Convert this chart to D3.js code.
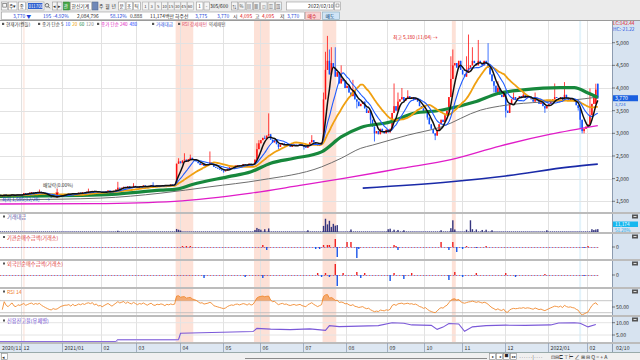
<!DOCTYPE html>
<html><head><meta charset="utf-8">
<script src="https://cdn.jsdelivr.net/npm/d3@7"></script>
<style>body{margin:0;background:#fff}svg{display:block;font-family:"Noto Sans CJK KR","Noto Sans",sans-serif}</style>
</head><body><svg id="c" width="640" height="360"></svg>
<script>
// ---------------- DATA ----------------
const closes = [
1620,1640,1630,1610,1650,1630,1620,1640,1660,1630,1620,1650,1640,
1660,1680,1650,1670,1690,1700,1680,
1700,1690,1710,1680,1660,1640,1620,
1600,1590,1610,1595,1600,1620,1640,1650,1660,
1660,1670,1650,1680,1660,1670,1690,1680,1700,1690,1710,1720,
1710,1730,1700,1720,1690,1700,
1680,1700,1720,1740,1720,1700,1730,
1760,1800,1780,
1800,1820,1790,1830,1810,1800,1840,1820,1800,1830,
1820,1850,1830,1810,1840,1860,1830,1820,1850,1840,1860,1850,1830,1860,1850,1870,1860,1870,
2330,2380,2340,2400,2420,2380,2430,2460,2420,2400,
2380,2340,2300,2320,2280,2300,
2320,2360,2330,
2260,2240,2220,2200,2180,2160,2180,2220,
2250,2270,2260,2290,2300,2280,2300,2320,2310,2290,2330,2300,
2320,2420,2650,2780,2850,2900,2880,2950,2980,2860,2800,2840,2760,2700,2750,
2780,2740,2760,2720,2700,2730,2750,2720,2740,2760,2720,2700,2680,
2760,2800,2850,2800,2760,2720,2760,2800,
3750,4400,4600,4300,4550,4450,4250,4350,4100,4200,
4150,4000,4050,3900,3820,3950,3750,3700,3600,3650,
3700,3550,3450,3500,3300,
3150,3000,3050,2980,3100,3050,3000,3080,3020,3100,
3450,3600,3500,3700,3750,3800,3720,3780,3820,3760,3800,3740,3780,3700,
3600,3550,3450,3500,3350,
3200,3100,3000,2950,3050,
3200,3300,3250,3400,3500,
3800,4200,4500,4550,4450,4600,
4400,4300,4250,4350,
4450,4500,4600,4550,4500,4600,4550,4500,4600,4550,4450,
4300,4150,4050,3900,4000,3850,3800,3900,3500,3450,
3650,3750,3800,3760,3780,3820,3800,3850,3780,3820,3800,3750,
3700,3780,3720,3650,3680,3600,3550,3600,3650,
3700,3750,3800,3780,3750,3800,3720,3850,3780,3740,3760,3720,3700,
3620,3560,3300,3050,3100,3150,3200,3400,3650,3850,3965,3770];
const openOverrides = [[167,2850],[306,3650],[307,4095]];
const highWicks = [[22,1760],[47,1780],[62,1930],[70,1900],[80,1920],[93,2450],[96,2560],[99,2530],[109,2600],
 [133,2780],[134,2850],[137,2950],[139,3440],[161,2960],[167,3900],[168,4800],[169,5150],[170,4850],[171,4900],
 [173,4900],[176,4500],[182,4180],[203,4100],[205,3900],[207,4000],[210,3950],[232,4700],[233,4850],[240,4700],
 [241,5180],[243,4900],[246,5060],[251,4990],[256,4150],[264,3900],[269,3950],[275,3900],[285,4100],[290,4130],
 [303,3990],[306,4095]];
const lowWicks = [[31,1585],[116,2130],[144,2650],[157,2640],[184,3550],[191,3200],[193,2820],[220,3300],[224,2850],
 [254,3900],[260,3350],[280,3450],[297,3500],[298,3100],[299,3000],[300,3000]];
// moving averages (index, price)
const ma60 = [[0,1610],[53,1640],[84,1745],[92,1770],[100,1870],[118,2040],[130,2150],[140,2340],[152,2450],[166,2590],[176,2920],[186,3130],[201,3250],[213,3440],[227,3510],[244,3690],[256,3880],[269,3960],[288,4010],[295,4010],[302,3890],[307,3790]];
const ma120 = [[0,1530],[12,1535],[53,1570],[84,1680],[109,1820],[135,1970],[166,2260],[176,2450],[186,2670],[192,2740],[210,2960],[227,3140],[247,3510],[260,3620],[278,3690],[293,3730],[307,3800]];
const ma240 = [[0,1440],[50,1450],[91,1500],[130,1680],[155,1850],[178,2010],[207,2230],[232,2420],[257,2720],[283,2980],[307,3170]];
const ma480 = [[187,1790],[232,1930],[260,2060],[293,2260],[307,2320]];
// 거래대금 (억원) notable bars
const tradeValue = [[62,50],[92,120],[93,90],[94,60],[132,80],[133,160],[134,120],[135,90],[137,110],[139,140],[159,70],
 [167,240],[168,520],[169,300],[170,440],[171,200],[172,320],[173,250],[174,270],[181,100],[200,110],[201,130],[203,90],
 [205,80],[208,70],[227,70],[232,150],[233,460],[234,100],[240,90],[242,460],[243,110],[245,100],[248,80],[250,90],
 [253,70],[281,70],[304,110],[305,80],[306,100],[307,112]];
const instNet = [[95,1],[97,1],[99,1],[136,2],[138,-3],[163,-2],[165,-2],[167,2],[169,2],[170,2],[173,8],[174,-10],[179,5],[181,5],[184,-11],[185,-2],[203,2],[204,1],[205,-3],[227,5],[231,-3],[233,5],[235,-5],[238,-2],[240,1],[245,-1],[250,1],[300,-1],[302,1]];
const foreignNet = [[106,-3],[127,-2],[136,-3],[164,2],[166,-2],[168,2],[170,-2],[173,11],[174,-11],[177,2],[184,3],[186,-3],[188,2],[201,-6],[203,2],[208,-4],[212,2],[231,-5],[234,3],[238,-2],[245,2],[260,2],[265,-2],[280,1],[300,-1]];
const creditRatio = [[0,2.3],[61,2.3],[62,3.2],[93,3.2],[94,5.7],[110,6.0],[131,6.4],[133,7.7],[140,7.4],[150,7.2],[160,7.5],[168,6.9],[170,8.8],[175,8.4],[185,8.6],[195,8.8],[202,10.0],[208,9.8],[212,9.1],[222,8.9],[225,7.3],[228,8.2],[231,9.7],[236,9.5],[239,6.5],[243,8.3],[250,8.8],[260,9.0],[270,8.9],[283,9.1],[287,9.9],[295,10.0],[298,9.8],[302,8.3],[306,9.3]];
const strongZones = [[14,14],[92,100],[132,139],[167,173],[233,234]];
const weakZones = [[298,298]];
const monthTicks = [["2020/11",0],["12",13],["2021/01",34],["02",54],["03",72],["04",94],["05",116],["06",135],["07",157],["08",179],["09",200],["10",219],["11",238],["12",260],["2022/01",282],["02",302]];
const priceTicks = [1500,2000,2500,3000,3500,4000,4500,5000];
const legendGroups = [
  [2,  [["현재가(캔들)","#333"]]],
  [38, [["종가 단순 5","#333"],["10","#1e50ff"],["20","#f0a000"],["60","#15893a"],["120","#8a8a8a"]]],
  [97, [["종가 단순 240","#e020c0"],["480","#1e3cff"]]],
  [152,[["거래대금","#3050e0"]]],
  [178,[["RSI 강세패턴","#e05070"],["약세패턴","#555"]]]
];

// ---------------- SETUP ----------------
const svg = d3.select("#c");
const N = closes.length;
const xs = d3.scaleLinear().domain([0, 308]).range([-4.6, -4.6 + 1.959*308]);
const cx = i => xs(i + 0.5);
const yP = d3.scaleLinear().domain([1500, 5000]).range([201.3, 42.7]);
const PR = 612;
const P = {main:[20,213], vol:[213,233], inst:[233,260], fore:[260,288], rsi:[288,316], cred:[316,343]};
function txt(g, x, y, s, col, size, anchor){ return g.append("text").attr("x",x).attr("y",y).attr("fill",col||"#222").attr("font-size",size||5.5).attr("text-anchor",anchor||"start").text(s); }

svg.append("rect").attr("width",640).attr("height",360).attr("fill","#fff");
// ---------- header ----------
svg.append("rect").attr("width",640).attr("height",20).attr("fill","#ebebeb");
const hdr = svg.append("g");
function hbox(x,y,w,h,fill,stroke){ hdr.append("rect").attr("x",x+0.5).attr("y",y+0.5).attr("width",w).attr("height",h).attr("fill",fill).attr("stroke",stroke||"#9a9a9a").attr("stroke-width",0.6); }
hbox(1,1.5,6,8,"#f8f8f8");
hdr.append("rect").attr("x",2.8).attr("y",3.6).attr("width",3.5).attr("height",3.5).attr("fill","none").attr("stroke","#555").attr("stroke-width",0.6);
hbox(8,1.5,8.5,8,"#fff"); txt(hdr,9,8.2,"주▾","#222",4.8);
hbox(18,1.5,7,8,"#fff"); txt(hdr,19.5,8.2,"종","#222",4.8);
hbox(26.5,1.5,17,8,"#fff"); hdr.append("rect").attr("x",28).attr("y",3).attr("width",14.5).attr("height",6).attr("fill","#2f5fd0");
txt(hdr,28.6,7.9,"011700","#fff",4.3);
hdr.append("circle").attr("cx",47).attr("cy",5.3).attr("r",1.8).attr("fill","none").attr("stroke","#444").attr("stroke-width",0.7);
hdr.append("line").attr("x1",48.3).attr("y1",6.6).attr("x2",49.8).attr("y2",8.2).attr("stroke","#444").attr("stroke-width",0.8);
hbox(52,1.5,4.5,8,"#f4f4f4"); txt(hdr,54.5,7.9,"◂","#333",4.5,"middle");
hbox(57,1.5,4.5,8,"#f4f4f4"); txt(hdr,59.5,7.9,"▸","#333",4.5,"middle");
hbox(63,1.5,6,8,"#48a848","#2e7d32"); txt(hdr,63.8,8,"관","#fff",4.5);
hbox(70,1.5,21,8,"#fff"); txt(hdr,71.5,8.2,"한신기계","#222",4.8);
hbox(92,1.5,5.5,8,"#7088b8","#506890");
["주","월","년"].forEach((s,k)=>txt(hdr,99+k*6.2,8.2,s,"#222",4.8));
["분","초","틱"].forEach((s,k)=>{hbox(118+k*7.6,1.5,6.6,8,"#fff"); txt(hdr,119.4+k*7.6,8.2,s,"#222",4.6);});
["1","3","5","10","15","30","45","60"].forEach((s,k)=>{hbox(142+k*6.4,1.5,6,8,"#f4f4f4","#b0b0b0"); txt(hdr,145.3+k*6.4,7.9,s,"#333",4.2,"middle");});
hbox(196,1.5,6.5,8,"#fff"); txt(hdr,199.5,7.9,"1","#222",4.5,"middle");
hbox(203.5,1.5,5.5,8,"#f4f4f4"); txt(hdr,206.5,7.9,"-","#222",4.5,"middle");
txt(hdr,210,8.2,"305/600","#222",4.9);
["⇅","%","▤","▦","◫","▥","▧"].forEach((s,k)=>{hbox(231+k*7.3,1.5,6.3,8,"#f4f4f4"); txt(hdr,234.3+k*7.3,7.9,s,"#444",4.3,"middle");});
hbox(286,1.5,47,8,"#fff"); txt(hdr,308,8.2,"2022/02/10","#222",4.9);
hbox(334,1.5,6,8,"#fff"); hdr.append("rect").attr("x",336).attr("y",4).attr("width",3).attr("height",3).attr("fill","none").attr("stroke","#555").attr("stroke-width",0.5);
// row 2
hbox(1,11.5,303,7.5,"#fff");
[[13,"3,770 ▼","#1a3fd8"],[43,"195","#1a3fd8"],[53,"-4.92%","#1a3fd8"],[77,"2,084,796","#222"],[110,"58.12%","#1a3fd8"],[130,"0.888","#222"],[150,"11,174백만","#222"],[175,"하주선","#222"],[195,"3,775","#1a3fd8"],[217,"3,770","#1a3fd8"],[233,"시","#222"],[240,"4,095","#e01010"],[255,"고","#222"],[262,"4,095","#e01010"],[280,"저","#222"],[287,"3,770","#1a3fd8"]]
 .forEach(d=>txt(hdr,d[0],17.5,d[1],d[2],4.9));
hbox(305,11.5,15,7.5,"#f9d4d4","#c99"); txt(hdr,307.5,17.5,"매수","#c00",4.8);
hbox(322,11.5,17,7.5,"#cfe4f6","#8ab"); txt(hdr,325.5,17.5,"매도","#036",4.8);

// right axis column
svg.append("rect").attr("x",PR).attr("y",20).attr("width",28).attr("height",332).attr("fill","#d7e3f0");
svg.append("line").attr("x1",PR+0.5).attr("x2",PR+0.5).attr("y1",20).attr("y2",352).attr("stroke","#8d9cb0").attr("stroke-width",1);
svg.append("rect").attr("x",0).attr("y",343).attr("width",PR).attr("height",9).attr("fill","#dde7f2");

// clips
const defs = svg.append("defs");
defs.append("clipPath").attr("id","clip").append("rect").attr("x",0).attr("y",20).attr("width",PR).attr("height",323);
Object.entries(P).forEach(([k,v])=>defs.append("clipPath").attr("id","cl_"+k).append("rect").attr("x",0).attr("y",v[0]+1).attr("width",PR).attr("height",v[1]-v[0]-1));
const plot = svg.append("g").attr("clip-path","url(#clip)");

// zones
strongZones.forEach((z,k)=>plot.append("rect").attr("x",xs(z[0])).attr("y",20).attr("width",xs(z[1]+1)-xs(z[0])).attr("height",323).attr("fill", k===0?"#fdece6":"#fde1d7"));
weakZones.forEach(z=>plot.append("rect").attr("x",xs(z[0])).attr("y",20).attr("width",xs(z[1]+1)-xs(z[0])).attr("height",323).attr("fill","#e3f3fb"));
monthTicks.forEach(m=>plot.append("line").attr("x1",Math.round(xs(m[1]))+0.5).attr("x2",Math.round(xs(m[1]))+0.5).attr("y1",20).attr("y2",343).attr("stroke","#e2e2e2"));
priceTicks.forEach(p=>plot.append("line").attr("x1",0).attr("x2",PR).attr("y1",Math.round(yP(p))+0.5).attr("y2",Math.round(yP(p))+0.5).attr("stroke","#e2e2e2"));

// ---------- main panel ----------
const main = plot.append("g").attr("clip-path","url(#cl_main)");
const opens = closes.map((c,i)=> i>0 ? closes[i-1] : c);
openOverrides.forEach(d=>opens[d[0]]=d[1]);
const hw = new Map(highWicks), lw = new Map(lowWicks);
closes.forEach((c,i)=>{
  const o = opens[i];
  const col = c >= o ? "#ff1010" : "#1050ff";
  const hi = Math.max(o,c,hw.get(i)||0), lo = Math.min(o,c,lw.get(i)||1e9);
  main.append("line").attr("x1",cx(i)).attr("x2",cx(i)).attr("y1",yP(hi)).attr("y2",yP(lo)).attr("stroke",col).attr("stroke-width",0.8);
  const y1 = yP(Math.max(o,c)), y2 = yP(Math.min(o,c));
  main.append("rect").attr("x",cx(i)-0.75).attr("width",1.5).attr("y",y1).attr("height",Math.max(0.8,y2-y1)).attr("fill",col);
});
function sma(n){ return closes.map((c,i)=>d3.mean(closes.slice(Math.max(0,i-n+1), i+1))); }
const lineIdx = d3.line().x((d,i)=>cx(i)).y(d=>yP(d)).curve(d3.curveMonotoneX);
const linePts = d3.line().x(d=>cx(d[0])).y(d=>yP(d[1])).curve(d3.curveMonotoneX);
main.append("path").datum(ma240).attr("d",linePts).attr("fill","none").attr("stroke","#e01cc8").attr("stroke-width",1.3);
main.append("path").datum(ma480).attr("d",linePts).attr("fill","none").attr("stroke","#1a2aa8").attr("stroke-width",1.6);
main.append("path").datum(ma120).attr("d",linePts).attr("fill","none").attr("stroke","#6e6e6e").attr("stroke-width",1);
main.append("path").datum(ma60).attr("d",linePts).attr("fill","none").attr("stroke","#17883c").attr("stroke-width",3.2);
main.append("path").datum(sma(20)).attr("d",lineIdx).attr("fill","none").attr("stroke","#f0a010").attr("stroke-width",1.8);
main.append("path").datum(sma(10)).attr("d",lineIdx).attr("fill","none").attr("stroke","#1e5cff").attr("stroke-width",1.1);
main.append("path").datum(sma(5)).attr("d",lineIdx).attr("fill","none").attr("stroke","#111").attr("stroke-width",1.5);

// annotations
txt(main,43,186.5,"배당락(0.00%)","#333",4.8);
main.append("line").attr("x1",cx(31)).attr("x2",cx(31)).attr("y1",188.5).attr("y2",194).attr("stroke","#e00").attr("stroke-width",0.8);
main.append("path").attr("d",`M${cx(31)-1.8},192.5L${cx(31)+1.8},192.5L${cx(31)},195.5Z`).attr("fill","#e00");
txt(main,2,201,"최저 1,585(12/28)","#1a3fd8",4.8);
txt(main,45,201,"→","#1a3fd8",4.8);
txt(main,393,38.5,"최고 5,180 (11/04) →","#e01010",4.8);

// legend (sequential layout inside each group)
const leg = svg.append("g");
legendGroups.forEach(([x0,items])=>{
  leg.append("rect").attr("x",x0).attr("y",22.8).attr("width",2.2).attr("height",2.2).attr("fill","#555");
  let x = x0 + 4;
  items.forEach(([s,col])=>{ const t = txt(leg,x,26.3,s,col,4.6); x += t.node().getComputedTextLength() + 1.8; });
});

// ---------- volume ----------
const vol = plot.append("g").attr("clip-path","url(#cl_vol)");
const yV = d3.scaleLinear().domain([0,550]).range([232,218]);
vol.append("line").attr("x1",0).attr("x2",cx(N-1)+1).attr("y1",231.5).attr("y2",231.5).attr("stroke","#7a7ab0").attr("stroke-width",1).attr("stroke-dasharray","1.4,0.55");
tradeValue.forEach(d=>vol.append("rect").attr("x",cx(d[0])-0.7).attr("width",1.4).attr("y",yV(d[1])).attr("height",232-yV(d[1])).attr("fill","#35357f"));

// ---------- inst / foreign ----------
function netPanel(key, data, y0){
  const g = plot.append("g").attr("clip-path","url(#cl_"+key+")");
  const ys = d3.scaleLinear().domain([-12,12]).range([y0+12,y0-12]);
  g.append("line").attr("x1",0).attr("x2",cx(N-1)+1).attr("y1",y0+0.5).attr("y2",y0+0.5).attr("stroke","#e84040").attr("stroke-width",0.8).attr("stroke-dasharray","1,2");
  g.append("line").attr("x1",1.5).attr("x2",cx(N-1)+1).attr("y1",y0+0.5).attr("y2",y0+0.5).attr("stroke","#2a5ae0").attr("stroke-width",0.8).attr("stroke-dasharray","1,2");
  data.forEach(d=>{ const a=ys(d[1]), b=ys(0); g.append("rect").attr("x",cx(d[0])-0.7).attr("width",1.4).attr("y",Math.min(a,b)).attr("height",Math.abs(a-b)).attr("fill",d[1]>0?"#f02020":"#1a55e8"); });
}
netPanel("inst", instNet, 247);
netPanel("fore", foreignNet, 275);

// ---------- RSI ----------
const rsiG = plot.append("g").attr("clip-path","url(#cl_rsi)");
const rsiVals = (()=>{ const out=[50]; let ag=0, al=0, n=14; for(let i=1;i<N;i++){ const d=closes[i]-closes[i-1]; const g=Math.max(d,0), l=Math.max(-d,0); if(i<=n){ag=(ag*(i-1)+g)/i; al=(al*(i-1)+l)/i;} else {ag=(ag*(n-1)+g)/n; al=(al*(n-1)+l)/n;} out.push(al===0?100:100-100/(1+ag/al)); } return out; })();
const yR = d3.scaleLinear().domain([20,90]).range([315.7,294.7]);
[70,30].forEach(v=>rsiG.append("line").attr("x1",0).attr("x2",PR).attr("y1",yR(v)).attr("y2",yR(v)).attr("stroke","#b8b8b8").attr("stroke-width",0.8));
rsiG.append("path").datum(rsiVals).attr("d",d3.area().x((d,i)=>cx(i)).y0(yR(70)).y1(d=>yR(Math.max(70,d)))).attr("fill","#f2a060").attr("opacity",0.85);
rsiG.append("path").datum(rsiVals.slice(3)).attr("d",d3.line().x((d,i)=>cx(i+3)).y(d=>yR(d))).attr("fill","none").attr("stroke","#f08a30").attr("stroke-width",0.9);

// ---------- credit ----------
const crG = plot.append("g").attr("clip-path","url(#cl_cred)");
const yC = d3.scaleLinear().domain([5,10]).range([335,322.7]);
[10,5].forEach(v=>crG.append("line").attr("x1",0).attr("x2",PR).attr("y1",yC(v)).attr("y2",yC(v)).attr("stroke","#e4e4e4"));
crG.append("path").datum(creditRatio).attr("d",d3.line().x(d=>cx(d[0])).y(d=>yC(d[1]))).attr("fill","none").attr("stroke","#7a58d8").attr("stroke-width",1.1);
crG.append("path").datum(creditRatio.filter(d=>d[0]<=93)).attr("d",d3.line().x(d=>cx(d[0])).y(d=>yC(d[1])+0.8)).attr("fill","none").attr("stroke","#c7b8f0").attr("stroke-width",1.6).attr("opacity",0.8);

// separators
[213,233,260,288,316,343].forEach(y=>svg.append("rect").attr("x",0).attr("y",y-1).attr("width",640).attr("height",2).attr("fill","#bcbcbc"));
svg.append("line").attr("x1",0).attr("x2",640).attr("y1",20.5).attr("y2",20.5).attr("stroke","#9a9a9a");
svg.append("line").attr("x1",0).attr("x2",640).attr("y1",352.5).attr("y2",352.5).attr("stroke","#9aa");

// panel labels
const lab = svg.append("g");
[[219,"거래대금","#5656a8"],[239.5,"기관순매수금액(거래소)","#e03a3a"],[266,"외국인순매수금액(거래소)","#e03a3a"],[294,"RSI 14","#f08030"],[323,"신용잔고율(유체별)","#6a48d0"]].forEach(d=>{
  lab.append("rect").attr("x",3).attr("y",d[0]-3.5).attr("width",2).attr("height",2).attr("fill","#555");
  txt(lab,7,d[0],d[1],d[2],5.2);
});

// right axis labels
const ax = svg.append("g");
priceTicks.forEach(p=>{ ax.append("line").attr("x1",PR).attr("x2",PR+3).attr("y1",yP(p)).attr("y2",yP(p)).attr("stroke","#333").attr("stroke-width",0.6); txt(ax,PR+4,yP(p)+2,d3.format(",")(p),"#333",5.2); });
txt(ax,PR+1,25,"LC:142.44","#e01010",4.8);
txt(ax,PR+1,31,"HC:-21.22","#1a50e0",4.8);
ax.append("rect").attr("x",PR+1).attr("y",yP(3770)-3.2).attr("width",25).attr("height",6).attr("fill","#1a5fe0");
txt(ax,PR+3,yP(3770)+2,"3,770","#fff",5.2);
txt(ax,PR+3,yP(3770)+7.4,"3,724","#1a5fe0",4.2);
ax.append("rect").attr("x",PR+1).attr("y",221.5).attr("width",25).attr("height",5.5).attr("fill","#16b8ef");
txt(ax,PR+3,226.2,"11,174","#fff",4.8);
txt(ax,PR+3,231.5,"51.28%","#16a8e8",4.5);
[[247,"0"],[275,"0"],[307,"50.00"],[322.7,"10.00"],[335,"5.00"]].forEach(d=>{ ax.append("line").attr("x1",PR).attr("x2",PR+3).attr("y1",d[0]).attr("y2",d[0]).attr("stroke","#333").attr("stroke-width",0.6); txt(ax,PR+4,d[0]+2,d[1],"#333",5.2); });
[214.5,234.5,261.5,289.5,317.5].forEach(y=>{ ax.append("rect").attr("x",632).attr("y",y).attr("width",6).attr("height",4).attr("fill","#555"); ax.append("line").attr("x1",633.5).attr("x2",636.5).attr("y1",y+2).attr("y2",y+2).attr("stroke","#fff").attr("stroke-width",0.8); });

// date axis
monthTicks.forEach(m=>{ const x=Math.round(xs(m[1]))+0.5; if(x>0) ax.append("line").attr("x1",x).attr("x2",x).attr("y1",343).attr("y2",352).attr("stroke","#8a9ab0").attr("stroke-width",0.7); txt(ax,Math.max(2,x+2),350,m[0],"#333",5.2); });
txt(ax,PR+4,350,"02/10","#333",5.2);

// bottom bar
svg.append("rect").attr("x",0).attr("y",353).attr("width",640).attr("height",7).attr("fill","#f0f0f0");
svg.append("rect").attr("x",1.5).attr("y",353.5).attr("width",6).attr("height",6).attr("fill","#fff").attr("stroke","#888").attr("stroke-width",0.6);
txt(svg,2.3,358.6,"◂","#333",5);
svg.append("line").attr("x1",245).attr("x2",487).attr("y1",358.5).attr("y2",358.5).attr("stroke","#8a8a8a");
["▸","◂","■","▸▸"].forEach((s,k)=>{ svg.append("rect").attr("x",489.5+k*7).attr("y",353.5).attr("width",6).attr("height",6).attr("fill","#fff").attr("stroke","#888").attr("stroke-width",0.6); txt(svg,492.5+k*7,358.4,s,"#222",4,"middle"); });
txt(svg,519,358.6,"‥‥‥|‥‥","#444",4.5);
txt(svg,551,358.8,"⊡⊟⊏ ⊤ ⊢ ∠ ⊞ ⊟ Q = + A","#333",5.2);
</script></body></html>
